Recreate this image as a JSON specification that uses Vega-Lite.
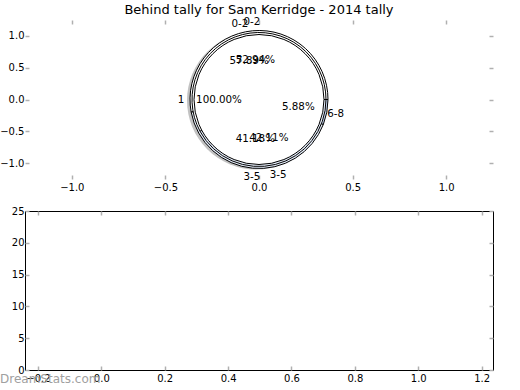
{
  "$schema": "https://vega.github.io/schema/vega-lite/v6.json",
  "background": "white",
  "padding": {"left": -1, "top": 4, "right": 20, "bottom": 0},
  "bounds": "flush",
  "spacing": 32,
  "config": {
    "font": "DejaVu Sans",
    "view": {"stroke": null},
    "axis": {
      "labelFont": "DejaVu Sans",
      "labelFontSize": 10,
      "labelColor": "black",
      "tickColor": "#b0b0b0",
      "tickWidth": 1.5,
      "tickSize": -4,
      "labelPadding": 5,
      "grid": false,
      "domain": false,
      "title": null
    },
    "axisBottom": {"labelPadding": 7},
    "title": {"font": "DejaVu Sans", "fontSize": 13, "fontWeight": "normal", "color": "black"}
  },
  "datasets": {
    "pies": [
      {"pie": "p1", "label": "0-2", "share": 0.5294},
      {"pie": "p1", "label": "3-5", "share": 0.4118},
      {"pie": "p1", "label": "6-8", "share": 0.0588},
      {"pie": "p2", "label": "0-2", "share": 0.5789},
      {"pie": "p2", "label": "3-5", "share": 0.4211},
      {"pie": "p3", "label": "1", "share": 1.0}
    ],
    "empty": []
  },
  "vconcat": [
    {
      "width": 468,
      "height": 159,
      "title": {"text": "Behind tally for Sam Kerridge - 2014 tally", "anchor": "middle", "frame": "group", "offset": -0.5},
      "data": {"name": "pies"},
      "layer": [
        {
          "transform": [{"filter": "datum.pie === 'p3'"}],
          "mark": {"type": "arc", "radius": 69, "fill": "#999999", "opacity": 0.6, "xOffset": -3, "yOffset": 1},
          "encoding": {
            "x": {"datum": 0, "type": "quantitative", "scale": {"domain": [-1.25, 1.25], "nice": false, "zero": false}, "axis": {"orient": "top", "labels": false, "values": [-1, -0.5, 0, 0.5, 1]}},
            "y": {"datum": 0, "type": "quantitative", "scale": {"domain": [-1.25, 1.25], "nice": false, "zero": false}, "axis": {"orient": "right", "labels": false, "values": [-1, -0.5, 0, 0.5, 1]}},
            "theta": {"field": "share", "type": "quantitative", "stack": true, "scale": {"domain": [0, 1], "range": [1.5708, -4.7124]}}
          }
        },
        {
          "transform": [{"filter": "datum.pie === 'p1'"}],
          "mark": {"type": "arc", "radius": 69, "stroke": "black", "strokeWidth": 1},
          "encoding": {
            "x": {"datum": 0, "type": "quantitative", "axis": {"orient": "bottom", "values": [-1, -0.5, 0, 0.5, 1], "format": ".1f"}},
            "y": {"datum": 0, "type": "quantitative", "axis": {"orient": "left", "values": [-1, -0.5, 0, 0.5, 1], "format": ".1f"}},
            "theta": {"field": "share", "type": "quantitative", "stack": true},
            "order": {"field": "label", "type": "ordinal"},
            "color": {"field": "label", "type": "nominal", "scale": {"domain": ["0-2", "3-5", "6-8", "1"], "range": ["#ffffff", "#e6eefb", "#c9d9f4", "#ffffff"]}, "legend": null}
          }
        },
        {
          "transform": [{"filter": "datum.pie === 'p2'"}],
          "mark": {"type": "arc", "radius": 67, "stroke": "black", "strokeWidth": 1},
          "encoding": {
            "theta": {"field": "share", "type": "quantitative", "stack": true},
            "order": {"field": "label", "type": "ordinal"},
            "color": {"field": "label", "type": "nominal", "legend": null}
          }
        },
        {
          "transform": [{"filter": "datum.pie === 'p3'"}],
          "mark": {"type": "arc", "radius": 65, "stroke": "black", "strokeWidth": 1},
          "encoding": {
            "theta": {"field": "share", "type": "quantitative", "stack": true},
            "order": {"field": "label", "type": "ordinal"},
            "color": {"field": "label", "type": "nominal", "legend": null}
          }
        },
        {
          "mark": {"type": "text", "fontSize": 10.3, "font": "DejaVu Sans", "color": "black"},
          "encoding": {
            "theta": {"field": "share", "type": "quantitative", "stack": true},
            "radius": {"field": "pie", "type": "ordinal", "scale": {"type": "point", "domain": ["p1", "p2", "p3"], "range": [78, 78], "padding": 0}},
            "order": {"field": "label", "type": "ordinal"},
            "text": {"field": "label"}
          }
        },
        {
          "mark": {"type": "text", "fontSize": 10.3, "font": "DejaVu Sans", "color": "black"},
          "encoding": {
            "theta": {"field": "share", "type": "quantitative", "stack": true},
            "radius": {"field": "pie", "type": "ordinal", "scale": {"type": "point", "domain": ["p1", "p2", "p3"], "range": [40, 40], "padding": 0}},
            "order": {"field": "label", "type": "ordinal"},
            "text": {"field": "share", "format": ".2%"}
          }
        }
      ],
      "resolve": {"scale": {"radius": "independent"}, "axis": {"x": "independent", "y": "independent"}}
    },
    {
      "width": 468,
      "height": 159,
      "view": {"stroke": "black", "strokeWidth": 1},
      "title": {"text": "DreamStats.com", "orient": "bottom", "anchor": "start", "frame": "group", "dx": -25, "offset": -9, "fontSize": 12, "color": "#a0a0a0"},
      "data": {"name": "empty"},
      "layer": [
        {
          "mark": "bar",
          "encoding": {
            "x": {"field": "x", "type": "quantitative", "scale": {"domain": [-0.225, 1.22], "nice": false, "zero": false}, "axis": {"values": [-0.2, 0, 0.2, 0.4, 0.6, 0.8, 1.0, 1.2], "format": ".1f"}},
            "y": {"field": "count", "type": "quantitative", "scale": {"domain": [0, 25], "nice": false}, "axis": {"values": [0, 5, 10, 15, 20, 25]}}
          }
        },
        {
          "mark": "bar",
          "encoding": {
            "x": {"field": "x", "type": "quantitative", "axis": {"orient": "top", "labels": false, "values": [-0.2, 0, 0.2, 0.4, 0.6, 0.8, 1.0, 1.2]}},
            "y": {"field": "count", "type": "quantitative", "axis": {"orient": "right", "labels": false, "values": [0, 5, 10, 15, 20, 25]}}
          }
        }
      ],
      "resolve": {"axis": {"x": "independent", "y": "independent"}}
    }
  ]
}
